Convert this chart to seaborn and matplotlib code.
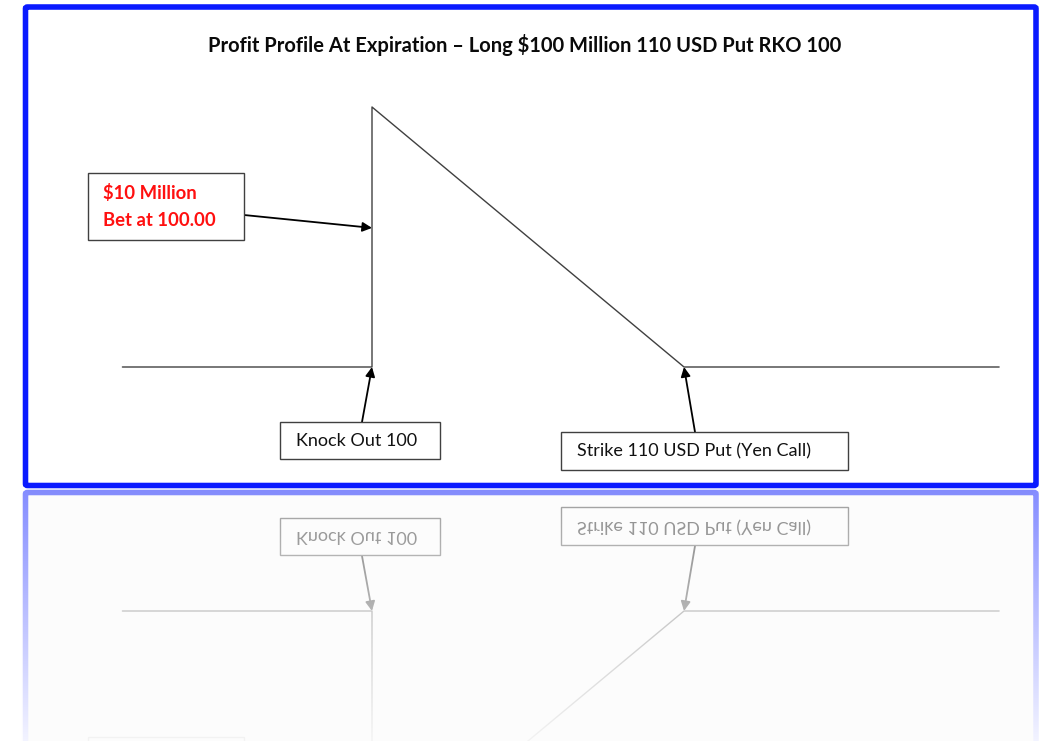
"""
plot.py
Profit profile at expiration for a long USD put with reverse knock-out,
drawn as a framed panel with a faded mirror reflection underneath.
"""

import numpy as np
import matplotlib
matplotlib.use('Agg')
import matplotlib.pyplot as plt
from matplotlib.patches import Rectangle, FancyBboxPatch
import seaborn as sns

W, H = 1041, 741
SPLIT = 489  # pixel row where the reflection starts

# payoff path: USD/JPY spot vs profit ($ million)
spot = [92.0, 100.0, 100.0, 110.0, 120.1]
profit = [0.0, 0.0, 10.0, 0.0, 0.0]

knock_out = 100.0
strike = 110.0
bet_level = 5.35  # where the bet callout hits the knock-out wall

title = 'Profit Profile At Expiration – Long $100 Million 110 USD Put RKO 100'
bet_lines = ['$10 Million', 'Bet at 100.00']
ko_label = 'Knock Out 100'
strike_label = 'Strike 110 USD Put (Yen Call)'

sns.set_style('white')
plt.rcParams['font.family'] = ['Lato', 'DejaVu Sans']

LINE_COL = '#404040'
BLUE = '#0a1aff'


def fp(x, y):
    """pixel position (from top-left) -> figure fraction"""
    return x / W, 1 - y / H


fig = plt.figure(figsize=(W / 100, H / 100), dpi=100)
fig.patch.set_facecolor('white')

# main panel axes, scaled so knock-out / strike / zero / max land where they should
ax = fig.add_axes([0, 1 - SPLIT / H, 1, SPLIT / H])
x_per = (684 - 372) / (strike - knock_out)
y_per = (367 - 107) / max(profit)
ax.set_xlim(knock_out - 372 / x_per, knock_out + (W - 372) / x_per)
ax.set_ylim(-(SPLIT - 367) / y_per, 367 / y_per)
ax.axis('off')

sns.lineplot(x=spot, y=profit, sort=False, estimator=None, ax=ax,
             color=LINE_COL, linewidth=1.0)

fig.text(*fp(525, 45), title, ha='center', va='center',
         fontsize=14.5, fontweight='bold', color='#0a0a0a')

# callout boxes
boxes = [(88, 173, 244, 240), (280, 422, 440, 459), (561, 432, 848, 470)]
for x0, y0, x1, y1 in boxes:
    fig.patches.append(Rectangle(fp(x0, y1), (x1 - x0) / W, (y1 - y0) / H,
                                 transform=fig.transFigure, fill=True,
                                 facecolor='white', edgecolor=LINE_COL, lw=1.0))

fig.text(*fp(103, 193), bet_lines[0], ha='left', va='center',
         fontsize=13.3, fontweight='bold', color='#ff1010')
fig.text(*fp(103, 221), bet_lines[1], ha='left', va='center',
         fontsize=13.3, fontweight='bold', color='#ff1010')
fig.text(*fp(296, 441), ko_label, ha='left', va='center',
         fontsize=13, color='#111111')
fig.text(*fp(577, 451), strike_label, ha='left', va='center',
         fontsize=13, color='#111111')

arrow_kw = dict(arrowstyle='-|>', color='black', lw=1.3,
                mutation_scale=14, shrinkA=0, shrinkB=0)
ax.annotate('', xy=(knock_out, bet_level), xycoords='data',
            xytext=fp(244, 215), textcoords='figure fraction', arrowprops=arrow_kw)
ax.annotate('', xy=(knock_out, 0), xycoords='data',
            xytext=fp(362, 422), textcoords='figure fraction', arrowprops=arrow_kw)
ax.annotate('', xy=(strike, 0), xycoords='data',
            xytext=fp(695, 432), textcoords='figure fraction', arrowprops=arrow_kw)

# blue frame
frame = FancyBboxPatch(fp(25.5, 485.5), (1036 - 25.5) / W, (485.5 - 7) / H,
                       boxstyle='round,pad=0,rounding_size=0.002',
                       transform=fig.transFigure, fill=False,
                       edgecolor=BLUE, lw=4.0)
fig.patches.append(frame)

# mirrored, fading reflection of the lower part of the panel
fig.canvas.draw()
img = np.asarray(fig.canvas.buffer_rgba())[:, :, :3].astype(float) / 255
rows = H - SPLIT
mirror = img[SPLIT - rows:SPLIT][::-1]
fade = np.linspace(0.5, 0.05, rows)[:, None, None]
refl = 1 - fade * (1 - mirror)
refl[:, 28:1033] *= 0.99  # faint grey wash inside the frame

rax = fig.add_axes([0, 0, 1, rows / H])
rax.imshow(np.clip(refl, 0, 1), aspect='auto', interpolation='bilinear')
rax.axis('off')

fig.savefig('out.png', dpi=100)
plt.close()
print("Saved: out.png")
